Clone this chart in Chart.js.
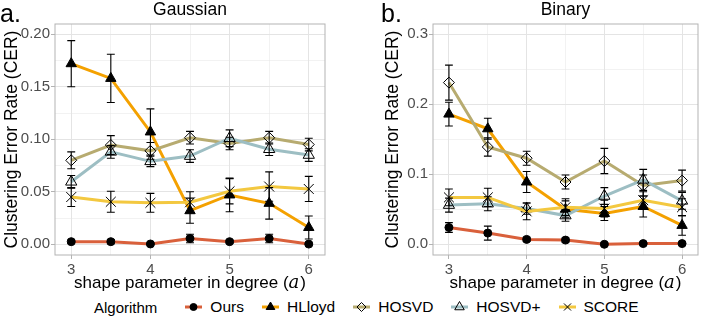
<!DOCTYPE html>
<html>
<head>
<meta charset="utf-8">
<script src="https://cdn.jsdelivr.net/npm/chart.js@4/dist/chart.umd.min.js"></script>
<style>
  body { margin: 0; background: #fff; width: 706px; height: 318px; overflow: hidden;
         font-family: "Liberation Sans", Arial, sans-serif; }
  canvas.panel { position: absolute; top: 0; }
  #panelA { left: 0; }
  #panelB { left: 353px; }
  .legend { position: absolute; top: 298px; left: 94px; height: 18px; display: flex;
            align-items: center; white-space: nowrap; color: #000; font-size: 15.5px; }
  .legend .title { margin-right: 28px; font-size: 15px; }
  .legend canvas { margin-right: 8px; }
  .legend .lab { margin-right: 18px; }
</style>
</head>
<body>
<canvas id="panelA" class="panel" width="353" height="295"></canvas>
<canvas id="panelB" class="panel" width="353" height="295"></canvas>
<div class="legend" id="legend"><span class="title">Algorithm</span></div>

<script>
const shapeParam = [3, 3.5, 4, 4.5, 5, 5.5, 6];
const algorithms = ['Ours', 'HLloyd', 'HOSVD', 'HOSVD+', 'SCORE'];
const xTicks = [3, 4, 5, 6];
const gaussYTicks = [0, 0.05, 0.1, 0.15, 0.2];
const binaryYTicks = [0, 0.1, 0.2, 0.3];

// Gaussian: mean CER and half-width of the error bars
const gaussOurs     = [0.0025, 0.0025, 0.0003, 0.0055, 0.0025, 0.0055, 0.0002];
const gaussHLloyd   = [0.172, 0.158, 0.107, 0.032, 0.047, 0.039, 0.016];
const gaussHOSVD    = [0.080, 0.0945, 0.089, 0.1015, 0.096, 0.1015, 0.095];
const gaussHOSVDp   = [0.0595, 0.088, 0.079, 0.084, 0.101, 0.0905, 0.085];
const gaussSCORE    = [0.045, 0.0405, 0.0395, 0.040, 0.0505, 0.055, 0.0527];
const gaussOursErr   = [0.0015, 0.002, 0.001, 0.004, 0.0015, 0.004, 0.001];
const gaussHLloydErr = [0.022, 0.023, 0.022, 0.012, 0.016, 0.015, 0.011];
const gaussHOSVDErr  = [0.008, 0.009, 0.008, 0.006, 0.006, 0.006, 0.006];
const gaussHOSVDpErr = [0.006, 0.006, 0.005, 0.006, 0.008, 0.006, 0.006];
const gaussSCOREErr  = [0.009, 0.010, 0.009, 0.010, 0.012, 0.014, 0.012];

// Binary
const binOurs     = [0.024, 0.016, 0.007, 0.006, 0.000, 0.001, 0.001];
const binHLloyd   = [0.186, 0.165, 0.089, 0.050, 0.044, 0.054, 0.027];
const binHOSVD    = [0.231, 0.139, 0.123, 0.089, 0.119, 0.084, 0.091];
const binHOSVDp   = [0.056, 0.058, 0.051, 0.041, 0.069, 0.092, 0.062];
const binSCORE    = [0.067, 0.067, 0.047, 0.053, 0.051, 0.063, 0.053];
const binOursErr   = [0.007, 0.010, 0.003, 0.003, 0.002, 0.002, 0.002];
const binHLloydErr = [0.017, 0.015, 0.015, 0.012, 0.010, 0.015, 0.014];
const binHOSVDErr  = [0.025, 0.013, 0.010, 0.010, 0.018, 0.015, 0.015];
const binHOSVDpErr = [0.010, 0.010, 0.008, 0.008, 0.012, 0.015, 0.012];
const binSCOREErr  = [0.012, 0.013, 0.012, 0.012, 0.012, 0.012, 0.012];

const colors = ['#D9603B', '#F4A100', '#B7AB70', '#9DBEC3', '#F3C840'];
const markers = [
  { pointStyle: 'circle',   radius: 4,   fill: '#000',        bw: 1 },
  { pointStyle: 'triangle', radius: 6,   fill: '#000',        bw: 1 },
  { pointStyle: 'rectRot',  radius: 5.5, fill: 'rgba(0,0,0,0)', bw: 1 },
  { pointStyle: 'triangle', radius: 6.5, fill: 'rgba(0,0,0,0)', bw: 1 },
  { pointStyle: 'crossRot', radius: 7,   fill: 'rgba(0,0,0,0)', bw: 1 },
];

const FONT = '"Liberation Sans", Arial, sans-serif';

let errorBars = {
  id: 'errorBars',
  afterDatasetsDraw(chart) {
    const { ctx, scales: { x, y } } = chart;
    ctx.save();
    ctx.strokeStyle = '#000';
    ctx.lineWidth = 1.1;
    chart.data.datasets.forEach(ds => {
      ds.data.forEach((p, i) => {
        const e = ds.err[i];
        const px = x.getPixelForValue(p.x);
        const x0 = x.getPixelForValue(p.x - 0.05), x1 = x.getPixelForValue(p.x + 0.05);
        const top = y.getPixelForValue(p.y + e), bot = y.getPixelForValue(p.y - e);
        ctx.beginPath();
        ctx.moveTo(px, top); ctx.lineTo(px, bot);
        ctx.moveTo(x0, top); ctx.lineTo(x1, top);
        ctx.moveTo(x0, bot); ctx.lineTo(x1, bot);
        ctx.stroke();
      });
    });
    ctx.restore();
  }
};

let panelDeco = {
  id: 'panelDeco',
  beforeDatasetsDraw(chart) {
    const { ctx, chartArea: a } = chart;
    ctx.save();
    ctx.strokeStyle = '#b3b3b3';
    ctx.lineWidth = 1;
    ctx.strokeRect(a.left, a.top, a.right - a.left, a.bottom - a.top);
    ctx.restore();
  },
  afterDraw(chart, args, opts) {
    const { ctx, chartArea: a } = chart;
    ctx.save();
    ctx.fillStyle = '#000';
    ctx.textBaseline = 'alphabetic';
    ctx.font = `25px ${FONT}`;
    ctx.fillText(opts.letter, opts.letterX, 22);

    // x axis title with italic math "a"
    const main = 'shape parameter in degree ';
    const fMain = `17px ${FONT}`, fMath = `italic 18px "DejaVu Serif", "Liberation Serif", serif`;
    ctx.font = fMain;
    const w1 = ctx.measureText(main + '(').width, w3 = ctx.measureText(')').width;
    ctx.font = fMath;
    const w2 = ctx.measureText('a').width + 1;
    let x = (a.left + a.right) / 2 - (w1 + w2 + w3) / 2;
    const yb = 288;
    ctx.font = fMain; ctx.fillText(main + '(', x, yb); x += w1;
    ctx.font = fMath; ctx.fillText('a', x, yb); x += w2;
    ctx.font = fMain; ctx.fillText(')', x, yb);
    ctx.restore();
  }
};

const near = (v, list) => list.some(t => Math.abs(t - v) < 1e-9);

function makePanel(id, title, letter, series, errs, yMin, yMax, yStep, yTicks, digits, padLeft, padRight, yWidth) {
  const datasets = series.map((vals, i) => ({
    label: algorithms[i],
    data: shapeParam.map((x, j) => ({ x, y: vals[j] })),
    err: errs[i],
    borderColor: colors[i],
    borderWidth: 3,
    tension: 0,
    order: algorithms.length - i,
    pointStyle: markers[i].pointStyle,
    pointRadius: markers[i].radius,
    pointBackgroundColor: markers[i].fill,
    pointBorderColor: '#000',
    pointBorderWidth: markers[i].bw,
  }));

  const isMajorY = v => near(v, yTicks);
  const isMajorX = v => near(v, xTicks);

  return new Chart(document.getElementById(id), {
    type: 'line',
    data: { datasets },
    options: {
      responsive: false,
      animation: false,
      layout: { padding: { left: padLeft, right: padRight, top: 0, bottom: 0 } },
      plugins: {
        legend: { display: false },
        tooltip: { enabled: false },
        title: {
          display: true, text: title, fullSize: false, color: '#000',
          font: { family: FONT, size: 17.5, weight: 'normal' },
          padding: { top: 0, bottom: 3 }
        },
        panelDeco: { letter, letterX: Math.max(0, padLeft - 2) }
      },
      scales: {
        x: {
          type: 'linear', min: 2.795, max: 6.205,
          afterFit: s => { s.height = 40; },
          border: { display: false },
          grid: {
            color: '#e4e4e4', tickLength: 4,
            lineWidth: c => isMajorX(c.tick.value) ? 1 : 0.5,
            tickColor: c => isMajorX(c.tick.value) ? '#b3b3b3' : 'rgba(0,0,0,0)'
          },
          ticks: {
            stepSize: 0.5, includeBounds: false, autoSkip: false, maxRotation: 0, padding: 2,
            color: '#4d4d4d', font: { family: FONT, size: 15 },
            callback: v => isMajorX(v) ? String(v) : ''
          }
        },
        y: {
          min: yMin, max: yMax,
          afterFit: s => { s.width = yWidth; },
          border: { display: false },
          grid: {
            color: '#e4e4e4', tickLength: 4,
            lineWidth: c => isMajorY(c.tick.value) ? 1 : 0.5,
            tickColor: c => isMajorY(c.tick.value) ? '#b3b3b3' : 'rgba(0,0,0,0)'
          },
          ticks: {
            stepSize: yStep, includeBounds: false, autoSkip: false, padding: 1,
            color: '#4d4d4d', font: { family: FONT, size: 15 },
            callback: v => isMajorY(v) ? v.toFixed(digits) : ''
          },
          title: {
            display: true, text: 'Clustering Error Rate (CER)', color: '#000',
            font: { family: FONT, size: 17.5 }, padding: { top: 0, bottom: 0 }
          }
        }
      }
    },
    plugins: [errorBars, panelDeco]
  });
}

makePanel('panelA', 'Gaussian', 'a.',
  [gaussOurs, gaussHLloyd, gaussHOSVD, gaussHOSVDp, gaussSCORE],
  [gaussOursErr, gaussHLloydErr, gaussHOSVDErr, gaussHOSVDpErr, gaussSCOREErr],
  -0.0102, 0.2098, 0.025, gaussYTicks, 2, 2, 28, 53);

makePanel('panelB', 'Binary', 'b.',
  [binOurs, binHLloyd, binHOSVD, binHOSVDp, binSCORE],
  [binOursErr, binHLloydErr, binHOSVDErr, binHOSVDpErr, binSCOREErr],
  -0.0153, 0.3147, 0.05, binaryYTicks, 1, 30, 4, 50);

// legend row shared by both panels
const legendKeys = [
  { radius: 3.5 }, { radius: 5 }, { radius: 4.5 }, { radius: 5.5 }, { radius: 5 }
];
const legendEl = document.getElementById('legend');
algorithms.forEach((name, i) => {
  const c = document.createElement('canvas');
  c.width = 17; c.height = 16;
  const g = c.getContext('2d');
  g.strokeStyle = colors[i];
  g.lineWidth = 3;
  g.beginPath(); g.moveTo(0, 8); g.lineTo(17, 8); g.stroke();
  g.fillStyle = markers[i].fill;
  g.strokeStyle = '#000';
  g.lineWidth = 1;
  Chart.helpers.drawPoint(g, { pointStyle: markers[i].pointStyle, radius: legendKeys[i].radius, rotation: 0, borderWidth: 1 }, 8.5, 8);
  legendEl.appendChild(c);
  const s = document.createElement('span');
  s.className = 'lab';
  s.textContent = name;
  legendEl.appendChild(s);
});
</script>
</body>
</html>
